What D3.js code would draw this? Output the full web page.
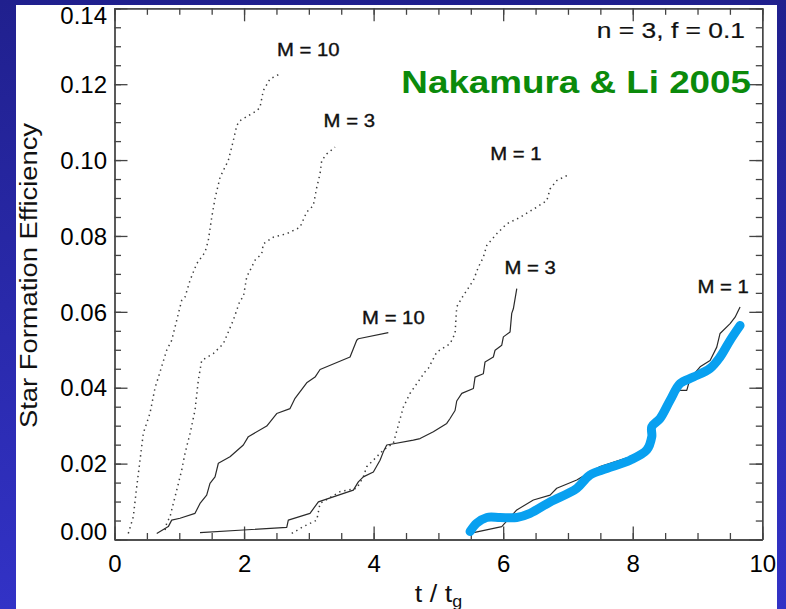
<!DOCTYPE html>
<html>
<head>
<meta charset="utf-8">
<script src="https://cdn.jsdelivr.net/npm/d3@7/dist/d3.min.js"></script>
<style>
  html, body { margin: 0; padding: 0; background: #2a2ab0; }
  svg { display: block; font-family: "Liberation Sans", Arial, Helvetica, sans-serif; }
</style>
</head>
<body>
<svg id="chart" width="786" height="609"></svg>
<script>
// Star formation efficiency vs. time (t / t_g), n = 3, f = 0.1
// Each series: [t/tg, SFE]

// dotted runs
const dottedM10 = [
  [0.213,0.0016],[0.290,0.0060],[0.343,0.0139],[0.394,0.0209],[0.445,0.0280],
  [0.548,0.0333],[0.625,0.0399],[0.703,0.0442],[0.806,0.0499],[0.883,0.0525],
  [1.037,0.0630],[1.088,0.0639],[1.166,0.0683],[1.269,0.0727],[1.397,0.0757],
  [1.448,0.0788],[1.501,0.0849],[1.552,0.0899],[1.630,0.0955],[1.757,0.0999],
  [1.834,0.1051],[1.887,0.1091],[1.938,0.1104],[2.196,0.1130],[2.246,0.1139],
  [2.297,0.1183],[2.401,0.1214],[2.555,0.1227]
];
const dottedM3 = [
  [0.780,0.0025],[0.806,0.0043],[0.857,0.0060],[0.960,0.0130],[1.038,0.0183],
  [1.088,0.0227],[1.166,0.0279],[1.243,0.0341],[1.294,0.0420],[1.346,0.0472],
  [1.525,0.0490],[1.680,0.0516],[1.834,0.0578],[1.938,0.0630],[1.989,0.0639],
  [2.041,0.0692],[2.118,0.0718],[2.169,0.0736],[2.273,0.0753],[2.297,0.0779],
  [2.452,0.0797],[2.659,0.0806],[2.864,0.0823],[2.967,0.0863],[3.069,0.0880],
  [3.122,0.0928],[3.173,0.0964],[3.199,0.0999],[3.276,0.1016],[3.404,0.1034]
];
const dottedM1 = [
  [2.736,0.0016],[2.915,0.0034],[3.122,0.0051],[3.173,0.0095],[3.482,0.0126],
  [3.739,0.0135],[3.841,0.0165],[3.894,0.0192],[3.996,0.0209],[4.150,0.0236],
  [4.304,0.0253],[4.459,0.0349],[4.562,0.0385],[4.794,0.0442],[4.845,0.0451],
  [4.975,0.0494],[5.180,0.0516],[5.257,0.0543],[5.283,0.0613],[5.385,0.0643],
  [5.540,0.0683],[5.617,0.0718],[5.694,0.0744],[5.747,0.0775],[5.901,0.0806],
  [6.055,0.0832],[6.261,0.0849],[6.518,0.0876],[6.673,0.0893],[6.724,0.0924],
  [6.827,0.0946],[7.006,0.0961]
];

// solid runs
const solidM10 = [
  [0.652,0.0016],[0.831,0.0034],[0.883,0.0051],[1.011,0.0056],[1.243,0.0069],
  [1.320,0.0095],[1.423,0.0117],[1.474,0.0148],[1.552,0.0165],[1.603,0.0201],
  [1.783,0.0218],[1.989,0.0249],[2.066,0.0271],[2.350,0.0299],[2.504,0.0332],
  [2.710,0.0345],[2.787,0.0372],[2.967,0.0413],[3.096,0.0428],[3.173,0.0448],
  [3.636,0.0481],[3.739,0.0525],[3.764,0.0529],[4.227,0.0545]
];
const solidM3 = [
  [1.320,0.0018],[1.989,0.0025],[2.659,0.0032],[2.683,0.0051],[3.018,0.0069],
  [3.147,0.0099],[3.687,0.0130],[3.764,0.0152],[3.841,0.0165],[3.996,0.0178],
  [4.099,0.0209],[4.150,0.0231],[4.203,0.0249],[4.613,0.0262],[4.717,0.0266],
  [4.922,0.0284],[5.129,0.0306],[5.180,0.0319],[5.257,0.0340],[5.283,0.0365],
  [5.361,0.0385],[5.540,0.0398],[5.566,0.0428],[5.694,0.0437],[5.720,0.0468],
  [5.848,0.0481],[5.875,0.0499],[5.978,0.0512],[6.003,0.0534],[6.106,0.0547],
  [6.132,0.0596],[6.157,0.0608],[6.210,0.0661]
];
const solidM1 = [
  [5.489,0.0016],[5.978,0.0034],[6.210,0.0078],[6.466,0.0104],[6.724,0.0117],
  [6.827,0.0135],[7.136,0.0157],[7.341,0.0178],[7.496,0.0192],[7.959,0.0218],
  [8.164,0.0236],[8.268,0.0271],[8.294,0.0297],[8.473,0.0332],[8.577,0.0385],
  [8.731,0.0393],[8.834,0.0393],[8.885,0.0424],[9.040,0.0455],[9.194,0.0472],
  [9.297,0.0507],[9.348,0.0543],[9.503,0.0569],[9.580,0.0586],[9.657,0.0613]
];

// smooth highlight traced over the M = 1 solid run
const highlight = [
  [5.489,0.0021],[5.592,0.0043],[5.747,0.0058],[5.952,0.0058],[6.210,0.0058],
  [6.415,0.0069],[6.724,0.0099],[7.136,0.0135],[7.341,0.0170],[7.599,0.0187],
  [7.959,0.0209],[8.217,0.0236],[8.294,0.0271],[8.294,0.0297],[8.422,0.0319],
  [8.577,0.0367],[8.731,0.0411],[8.936,0.0428],[9.194,0.0451],[9.348,0.0481],
  [9.503,0.0525],[9.657,0.0564]
];

const xMajorTicks = [0, 2, 4, 6, 8, 10];
const yMajorTicks = [0, 0.02, 0.04, 0.06, 0.08, 0.10, 0.12, 0.14];
const xTickLabels = ["0", "2", "4", "6", "8", "10"];
const yTickLabels = ["0.00", "0.02", "0.04", "0.06", "0.08", "0.10", "0.12", "0.14"];
const xMinorTicks = d3.range(0, 10.001, 0.5);
const yMinorTicks = d3.range(0, 0.1401, 0.005);

const svg = d3.select("#chart");
const W = 786, H = 609;

// background
const defs = svg.append("defs");
const grad = defs.append("linearGradient").attr("id", "bg")
  .attr("x1", 0).attr("y1", 0).attr("x2", 0).attr("y2", 1);
grad.append("stop").attr("offset", "0%").attr("stop-color", "#20208e");
grad.append("stop").attr("offset", "100%").attr("stop-color", "#3232c6");
svg.append("rect").attr("width", W).attr("height", H).attr("fill", "url(#bg)");
svg.append("rect").attr("x", 16).attr("y", 5).attr("width", 761).attr("height", H - 5)
  .attr("fill", "#ffffff");

// scales
const pLeft = 114.5, pRight = 762.3, pTop = 8.3, pBottom = 539.5;
const x = d3.scaleLinear().domain([0, 10]).range([pLeft, pRight]);
const y = d3.scaleLinear().domain([0, 0.14]).range([pBottom, pTop]);

const axisColor = "#444";
function styleAxis(g) {
  g.selectAll("path.domain").attr("stroke", axisColor).attr("stroke-width", 1.3);
  g.selectAll(".tick line").attr("stroke", axisColor).attr("stroke-width", 1.3);
  g.selectAll(".tick text").attr("fill", "#000").attr("font-size", 24)
    .attr("font-family", "'Liberation Sans', Arial, sans-serif");
}

// bottom axis with labels
const gB = svg.append("g").attr("transform", `translate(0,${pBottom})`)
  .call(d3.axisBottom(x).tickValues(xMajorTicks).tickSizeInner(-13).tickSizeOuter(0)
    .tickPadding(15).tickFormat((d, i) => xTickLabels[i]));
styleAxis(gB);
const gBm = svg.append("g").attr("transform", `translate(0,${pBottom})`)
  .call(d3.axisBottom(x).tickValues(xMinorTicks).tickSizeInner(-6.5).tickSizeOuter(0).tickFormat(""));
styleAxis(gBm);

// top axis
const gT = svg.append("g").attr("transform", `translate(0,${pTop})`)
  .call(d3.axisTop(x).tickValues(xMajorTicks).tickSizeInner(-13).tickSizeOuter(0).tickFormat(""));
styleAxis(gT);
const gTm = svg.append("g").attr("transform", `translate(0,${pTop})`)
  .call(d3.axisTop(x).tickValues(xMinorTicks).tickSizeInner(-6.5).tickSizeOuter(0).tickFormat(""));
styleAxis(gTm);

// left axis with labels
const gL = svg.append("g").attr("transform", `translate(${pLeft},0)`)
  .call(d3.axisLeft(y).tickValues(yMajorTicks).tickSizeInner(-13).tickSizeOuter(0)
    .tickPadding(7.5).tickFormat((d, i) => yTickLabels[i]));
styleAxis(gL);
// keep the end labels inside the panel
gL.selectAll(".tick text")
  .attr("dy", d => d === 0.14 ? "0.62em" : (d === 0 ? "0.0em" : "0.34em"));
const gLm = svg.append("g").attr("transform", `translate(${pLeft},0)`)
  .call(d3.axisLeft(y).tickValues(yMinorTicks).tickSizeInner(-6.5).tickSizeOuter(0).tickFormat(""));
styleAxis(gLm);

// right axis
const gR = svg.append("g").attr("transform", `translate(${pRight},0)`)
  .call(d3.axisRight(y).tickValues(yMajorTicks).tickSizeInner(-13).tickSizeOuter(0).tickFormat(""));
styleAxis(gR);
const gRm = svg.append("g").attr("transform", `translate(${pRight},0)`)
  .call(d3.axisRight(y).tickValues(yMinorTicks).tickSizeInner(-6.5).tickSizeOuter(0).tickFormat(""));
styleAxis(gRm);

// curves
const line = d3.line().x(d => x(d[0])).y(d => y(d[1]));
const plot = svg.append("g");

[dottedM10, dottedM3, dottedM1].forEach(s => {
  plot.append("path").datum(s).attr("d", line)
    .attr("fill", "none").attr("stroke", "#3c3c3c").attr("stroke-width", 1.5)
    .attr("stroke-dasharray", "1.4,3.8");
});
[solidM10, solidM3, solidM1].forEach(s => {
  plot.append("path").datum(s).attr("d", line)
    .attr("fill", "none").attr("stroke", "#2a2a2a").attr("stroke-width", 1.2)
    .attr("stroke-linejoin", "round");
});

const smooth = d3.line().curve(d3.curveCatmullRom.alpha(0.5))
  .x(d => x(d[0])).y(d => y(d[1]));
plot.append("path").datum(highlight).attr("d", smooth)
  .attr("fill", "none").attr("stroke", "#08a0f0").attr("stroke-width", 9)
  .attr("stroke-linecap", "round").attr("stroke-linejoin", "round");

// text helper: horizontally widened sans text
function label(px, py, str, opt) {
  const o = Object.assign({ size: 17, weight: "normal", fill: "#111", anchor: "middle", sx: 1.2, rot: 0, halo: 0 }, opt);
  const t = svg.append("text")
    .attr("transform", `translate(${px},${py}) rotate(${o.rot}) scale(${o.sx},1)`)
    .attr("text-anchor", o.anchor)
    .attr("font-size", o.size).attr("font-weight", o.weight)
    .attr("fill", o.fill)
    .text(str);
  if (o.halo) t.attr("stroke", o.fill).attr("stroke-width", o.halo);
  return t;
}

// curve annotations (t/tg, SFE of label baseline centre)
const annotations = [
  { t: 2.992, e: 0.1275, text: "M = 10" },
  { t: 3.624, e: 0.1086, text: "M = 3" },
  { t: 6.197, e: 0.0999, text: "M = 1" },
  { t: 6.415, e: 0.0699, text: "M = 3" },
  { t: 4.305, e: 0.0569, text: "M = 10" },
  { t: 9.395, e: 0.0649, text: "M = 1" }
];
annotations.forEach(a => label(x(a.t), y(a.e), a.text, { size: 17.5, sx: 1.16, fill: "#111", halo: 0.35 }));

label(745, 38, "n = 3, f = 0.1", { size: 22, anchor: "end", sx: 1.2, fill: "#111", halo: 0.2 });
label(751, 93, "Nakamura & Li 2005", { size: 32, weight: "bold", anchor: "end", sx: 1.15, fill: "#0b8a0b" });

// axis titles
label(37, 275.5, "Star Formation Efficiency", { size: 24, rot: -90, sx: 1.14, fill: "#111" });
const xt = label(438.5, 601.5, "t / t", { size: 24, sx: 1.12, fill: "#111" });
xt.append("tspan").attr("font-size", 16).attr("dy", 5).text("g");
</script>
</body>
</html>
